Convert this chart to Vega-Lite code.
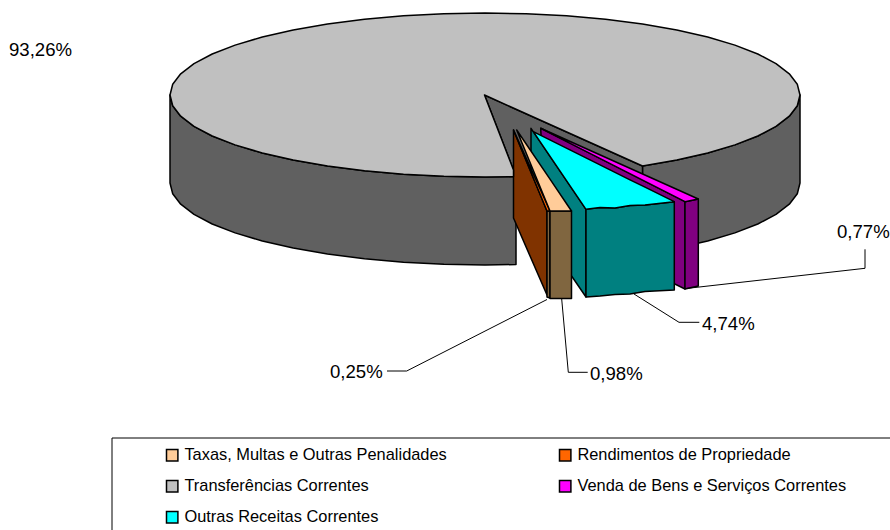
{
"$schema":"https://vega.github.io/schema/vega-lite/v6.json",
"width":890,"height":530,"padding":0,"autosize":"none",
"background":"white",
"config":{"view":{"stroke":null},"font":"Liberation Sans"},
"datasets":{
"faces":[
{"face":"Transferências lateral esquerda","x":170,"y":95,"y2":183},
{"face":"Transferências lateral esquerda","x":172.7,"y":105.7,"y2":193.7},
{"face":"Transferências lateral esquerda","x":180.7,"y":116.2,"y2":204.2},
{"face":"Transferências lateral esquerda","x":194,"y":126.4,"y2":214.4},
{"face":"Transferências lateral esquerda","x":212.2,"y":136,"y2":224},
{"face":"Transferências lateral esquerda","x":235.1,"y":144.9,"y2":232.9},
{"face":"Transferências lateral esquerda","x":262.3,"y":153,"y2":241},
{"face":"Transferências lateral esquerda","x":293.2,"y":160.1,"y2":248.1},
{"face":"Transferências lateral esquerda","x":327.5,"y":166,"y2":254},
{"face":"Transferências lateral esquerda","x":364.5,"y":170.8,"y2":258.8},
{"face":"Transferências lateral esquerda","x":403.5,"y":174.2,"y2":262.2},
{"face":"Transferências lateral esquerda","x":443.9,"y":176.3,"y2":264.3},
{"face":"Transferências lateral esquerda","x":485,"y":177,"y2":265},
{"face":"Transferências lateral esquerda","x":516,"y":176.5,"y2":264.5},
{"face":"Transferências lateral direita","x":642.5,"y":166,"y2":254},
{"face":"Transferências lateral direita","x":676.8,"y":160.1,"y2":248.1},
{"face":"Transferências lateral direita","x":707.7,"y":153,"y2":241},
{"face":"Transferências lateral direita","x":734.9,"y":144.9,"y2":232.9},
{"face":"Transferências lateral direita","x":757.8,"y":136,"y2":224},
{"face":"Transferências lateral direita","x":776,"y":126.4,"y2":214.4},
{"face":"Transferências lateral direita","x":789.3,"y":116.2,"y2":204.2},
{"face":"Transferências lateral direita","x":797.3,"y":105.7,"y2":193.7},
{"face":"Transferências lateral direita","x":800,"y":95,"y2":183},
{"face":"Transferências corte","x":484.5,"y":95,"y2":95},
{"face":"Transferências corte","x":516,"y":109.2,"y2":176.5},
{"face":"Transferências corte","x":642.5,"y":166,"y2":254},
{"face":"Venda parede","x":540.7,"y":128.3,"y2":128.3},
{"face":"Venda parede","x":545,"y":130.3,"y2":220},
{"face":"Venda parede","x":685,"y":201.7,"y2":289},
{"face":"Venda frente","x":685,"y":201.7,"y2":289},
{"face":"Venda frente","x":698.3,"y":199,"y2":286},
{"face":"Outras parede","x":531,"y":128.3,"y2":217},
{"face":"Outras parede","x":586,"y":209.3,"y2":297},
{"face":"Outras frente","x":586,"y":209.3,"y2":297},
{"face":"Outras frente","x":600,"y":207.5,"y2":296},
{"face":"Outras frente","x":615,"y":208,"y2":294.5},
{"face":"Outras frente","x":630,"y":205.5,"y2":294},
{"face":"Outras frente","x":645,"y":205,"y2":291.5},
{"face":"Outras frente","x":674.3,"y":201.7,"y2":290},
{"face":"Rendimentos parede","x":513.5,"y":130,"y2":218},
{"face":"Rendimentos parede","x":547,"y":211,"y2":295},
{"face":"Rendimentos frente","x":547,"y":211,"y2":297},
{"face":"Rendimentos frente","x":550,"y":211,"y2":298},
{"face":"Taxas frente","x":550,"y":211,"y2":298.5},
{"face":"Taxas frente","x":571.5,"y":211,"y2":298.5}
],
"tops":[
{"categoria":"Transferências Correntes","parte":"a","x":170,"y":95,"y2":95},
{"categoria":"Transferências Correntes","parte":"a","x":172.7,"y":84.3,"y2":105.7},
{"categoria":"Transferências Correntes","parte":"a","x":180.7,"y":73.8,"y2":116.2},
{"categoria":"Transferências Correntes","parte":"a","x":194,"y":63.6,"y2":126.4},
{"categoria":"Transferências Correntes","parte":"a","x":212.2,"y":54,"y2":136},
{"categoria":"Transferências Correntes","parte":"a","x":235.1,"y":45.1,"y2":144.9},
{"categoria":"Transferências Correntes","parte":"a","x":262.3,"y":37,"y2":153},
{"categoria":"Transferências Correntes","parte":"a","x":293.2,"y":29.9,"y2":160.1},
{"categoria":"Transferências Correntes","parte":"a","x":327.5,"y":24,"y2":166},
{"categoria":"Transferências Correntes","parte":"a","x":364.5,"y":19.2,"y2":170.8},
{"categoria":"Transferências Correntes","parte":"a","x":403.5,"y":15.8,"y2":174.2},
{"categoria":"Transferências Correntes","parte":"a","x":443.9,"y":13.7,"y2":176.3},
{"categoria":"Transferências Correntes","parte":"a","x":484.5,"y":13,"y2":177},
{"categoria":"Transferências Correntes","parte":"b","x":480,"y":13.1,"y2":177},
{"categoria":"Transferências Correntes","parte":"b","x":484.5,"y":13,"y2":95},
{"categoria":"Transferências Correntes","parte":"b","x":526.1,"y":13.7,"y2":113.7},
{"categoria":"Transferências Correntes","parte":"b","x":566.5,"y":15.8,"y2":131.9},
{"categoria":"Transferências Correntes","parte":"b","x":605.5,"y":19.2,"y2":149.4},
{"categoria":"Transferências Correntes","parte":"b","x":642.5,"y":24,"y2":166},
{"categoria":"Transferências Correntes","parte":"b","x":676.8,"y":29.9,"y2":160.1},
{"categoria":"Transferências Correntes","parte":"b","x":707.7,"y":37,"y2":153},
{"categoria":"Transferências Correntes","parte":"b","x":734.9,"y":45.1,"y2":144.9},
{"categoria":"Transferências Correntes","parte":"b","x":757.8,"y":54,"y2":136},
{"categoria":"Transferências Correntes","parte":"b","x":776,"y":63.6,"y2":126.4},
{"categoria":"Transferências Correntes","parte":"b","x":789.3,"y":73.8,"y2":116.2},
{"categoria":"Transferências Correntes","parte":"b","x":797.3,"y":84.3,"y2":105.7},
{"categoria":"Transferências Correntes","parte":"b","x":800,"y":95,"y2":95},
{"categoria":"Transferências Correntes","parte":"c","x":480,"y":90,"y2":177},
{"categoria":"Transferências Correntes","parte":"c","x":484.5,"y":95,"y2":177},
{"categoria":"Transferências Correntes","parte":"c","x":513.5,"y":170,"y2":176.6},
{"categoria":"Venda de Bens e Serviços Correntes","parte":"a","x":540.7,"y":128.3,"y2":128.3},
{"categoria":"Venda de Bens e Serviços Correntes","parte":"a","x":685,"y":193,"y2":201.7},
{"categoria":"Venda de Bens e Serviços Correntes","parte":"a","x":698.3,"y":199,"y2":199},
{"categoria":"Outras Receitas Correntes","parte":"a","x":533.3,"y":131.7,"y2":131.7},
{"categoria":"Outras Receitas Correntes","parte":"a","x":586,"y":157.9,"y2":209.3},
{"categoria":"Outras Receitas Correntes","parte":"a","x":600,"y":164.9,"y2":207.5},
{"categoria":"Outras Receitas Correntes","parte":"a","x":615,"y":172.4,"y2":208},
{"categoria":"Outras Receitas Correntes","parte":"a","x":630,"y":179.8,"y2":205.5},
{"categoria":"Outras Receitas Correntes","parte":"a","x":645,"y":187.2,"y2":205},
{"categoria":"Outras Receitas Correntes","parte":"a","x":674.3,"y":201.7,"y2":201.7},
{"categoria":"Rendimentos de Propriedade","parte":"a","x":513.5,"y":130,"y2":130},
{"categoria":"Rendimentos de Propriedade","parte":"a","x":547,"y":204.3,"y2":211},
{"categoria":"Rendimentos de Propriedade","parte":"a","x":550,"y":211,"y2":211},
{"categoria":"Taxas, Multas e Outras Penalidades","parte":"a","x":516.7,"y":130,"y2":130},
{"categoria":"Taxas, Multas e Outras Penalidades","parte":"a","x":550,"y":179.2,"y2":211},
{"categoria":"Taxas, Multas e Outras Penalidades","parte":"a","x":571.5,"y":211,"y2":211}
],
"contorno":[
{"ord":1,"x":642.5,"y":166},{"ord":2,"x":676.8,"y":160.1},{"ord":3,"x":707.7,"y":153},{"ord":4,"x":734.9,"y":144.9},
{"ord":5,"x":757.8,"y":136},{"ord":6,"x":776,"y":126.4},{"ord":7,"x":789.3,"y":116.2},{"ord":8,"x":797.3,"y":105.7},
{"ord":9,"x":800,"y":95},{"ord":10,"x":797.3,"y":84.3},{"ord":11,"x":789.3,"y":73.8},{"ord":12,"x":776,"y":63.6},
{"ord":13,"x":757.8,"y":54},{"ord":14,"x":734.9,"y":45.1},{"ord":15,"x":707.7,"y":37},{"ord":16,"x":676.8,"y":29.9},
{"ord":17,"x":642.5,"y":24},{"ord":18,"x":605.5,"y":19.2},{"ord":19,"x":566.5,"y":15.8},{"ord":20,"x":526.1,"y":13.7},
{"ord":21,"x":485,"y":13},{"ord":22,"x":443.9,"y":13.7},{"ord":23,"x":403.5,"y":15.8},{"ord":24,"x":364.5,"y":19.2},
{"ord":25,"x":327.5,"y":24},{"ord":26,"x":293.2,"y":29.9},{"ord":27,"x":262.3,"y":37},{"ord":28,"x":235.1,"y":45.1},
{"ord":29,"x":212.2,"y":54},{"ord":30,"x":194,"y":63.6},{"ord":31,"x":180.7,"y":73.8},{"ord":32,"x":172.7,"y":84.3},
{"ord":33,"x":170,"y":95},{"ord":34,"x":172.7,"y":105.7},{"ord":35,"x":180.7,"y":116.2},{"ord":36,"x":194,"y":126.4},
{"ord":37,"x":212.2,"y":136},{"ord":38,"x":235.1,"y":144.9},{"ord":39,"x":262.3,"y":153},{"ord":40,"x":293.2,"y":160.1},
{"ord":41,"x":327.5,"y":166},{"ord":42,"x":364.5,"y":170.8},{"ord":43,"x":403.5,"y":174.2},{"ord":44,"x":443.9,"y":176.3},
{"ord":45,"x":485,"y":177},{"ord":46,"x":513.5,"y":176.6},{"ord":47,"x":513.5,"y":170},{"ord":48,"x":484.5,"y":95},{"ord":49,"x":642.5,"y":166}
],
"lines":[
{"linha":"0,25%","ord":1,"x":387,"y":371},
{"linha":"0,25%","ord":2,"x":406.7,"y":371},
{"linha":"0,25%","ord":3,"x":547,"y":299.5},
{"linha":"0,98%","ord":1,"x":561.7,"y":299},
{"linha":"0,98%","ord":2,"x":568.3,"y":372.3},
{"linha":"0,98%","ord":3,"x":587.7,"y":372.3},
{"linha":"4,74%","ord":1,"x":634,"y":294},
{"linha":"4,74%","ord":2,"x":679,"y":322.3},
{"linha":"4,74%","ord":3,"x":699.3,"y":322.3},
{"linha":"0,77%","ord":1,"x":686,"y":288.5},
{"linha":"0,77%","ord":2,"x":865,"y":268.3},
{"linha":"0,77%","ord":3,"x":865,"y":249.3},
{"linha":"moldura","ord":1,"x":112,"y":530},
{"linha":"moldura","ord":2,"x":112,"y":438},
{"linha":"moldura","ord":3,"x":890,"y":438}
],
"labels":[
{"texto":"93,26%","x":9,"y":50},
{"texto":"0,25%","x":330,"y":372},
{"texto":"0,98%","x":590,"y":374},
{"texto":"4,74%","x":702,"y":324},
{"texto":"0,77%","x":837,"y":232}
]
},
"layer":[
{"data":{"name":"faces"},
 "mark":{"type":"area","stroke":"black","strokeWidth":1.5,"opacity":1,"strokeJoin":"round"},
 "encoding":{
  "x":{"field":"x","type":"quantitative","scale":{"domain":[0,890],"nice":false,"zero":false},"axis":null},
  "y":{"field":"y","type":"quantitative","scale":{"domain":[530,0],"nice":false,"zero":false},"axis":null},
  "y2":{"field":"y2"},
  "color":{"field":"face","type":"nominal","legend":null,
   "sort":null,
   "scale":{"domain":["Transferências lateral esquerda","Transferências lateral direita","Transferências corte","Venda parede","Venda frente","Outras parede","Outras frente","Rendimentos parede","Rendimentos frente","Taxas frente"],
   "range":["#606060","#606060","#606060","#800080","#800080","#008080","#008080","#803300","#806640","#806640"]}}
 }},
{"data":{"name":"tops"},
 "mark":{"type":"area","strokeWidth":1.5,"opacity":1,"strokeJoin":"round"},
 "encoding":{
  "x":{"field":"x","type":"quantitative","scale":{"domain":[0,890],"nice":false,"zero":false},"axis":null},
  "y":{"field":"y","type":"quantitative","scale":{"domain":[530,0],"nice":false,"zero":false},"axis":null},
  "y2":{"field":"y2"},
  "detail":{"field":"parte"},
  "stroke":{"condition":{"test":"datum.categoria === 'Transferências Correntes'","value":null},"value":"black"},
  "color":{"field":"categoria","type":"nominal","sort":null,
   "scale":{"domain":["Taxas, Multas e Outras Penalidades","Transferências Correntes","Outras Receitas Correntes","Rendimentos de Propriedade","Venda de Bens e Serviços Correntes"],
   "range":["#FFCC99","#C0C0C0","#00FFFF","#FF6600","#FF00FF"]},
   "legend":{"title":null,"orient":"none","legendX":164,"legendY":447,"columns":2,"columnPadding":109,"rowPadding":13,"symbolType":"square","symbolSize":130,"symbolStrokeColor":"black","symbolStrokeWidth":1.5,"symbolOpacity":1,"labelFontSize":16.4,"labelFont":"Liberation Sans","labelColor":"black","labelOffset":4,"labelLimit":400,"padding":0}}
 }},
{"data":{"name":"contorno"},
 "mark":{"type":"line","stroke":"black","strokeWidth":1.5,"strokeJoin":"round"},
 "encoding":{
  "x":{"field":"x","type":"quantitative","scale":{"domain":[0,890],"nice":false,"zero":false},"axis":null},
  "y":{"field":"y","type":"quantitative","scale":{"domain":[530,0],"nice":false,"zero":false},"axis":null},
  "order":{"field":"ord"}
 }},
{"data":{"name":"lines"},
 "mark":{"type":"line","stroke":"black","strokeWidth":1},
 "encoding":{
  "x":{"field":"x","type":"quantitative","scale":{"domain":[0,890],"nice":false,"zero":false},"axis":null},
  "y":{"field":"y","type":"quantitative","scale":{"domain":[530,0],"nice":false,"zero":false},"axis":null},
  "detail":{"field":"linha"},
  "order":{"field":"ord"}
 }},
{"data":{"name":"labels"},
 "mark":{"type":"text","align":"left","baseline":"middle","fontSize":18.6,"font":"Liberation Sans","fill":"black"},
 "encoding":{
  "x":{"field":"x","type":"quantitative","scale":{"domain":[0,890],"nice":false,"zero":false},"axis":null},
  "y":{"field":"y","type":"quantitative","scale":{"domain":[530,0],"nice":false,"zero":false},"axis":null},
  "text":{"field":"texto"}
 }}
],
"resolve":{"scale":{"color":"independent"}}
}
